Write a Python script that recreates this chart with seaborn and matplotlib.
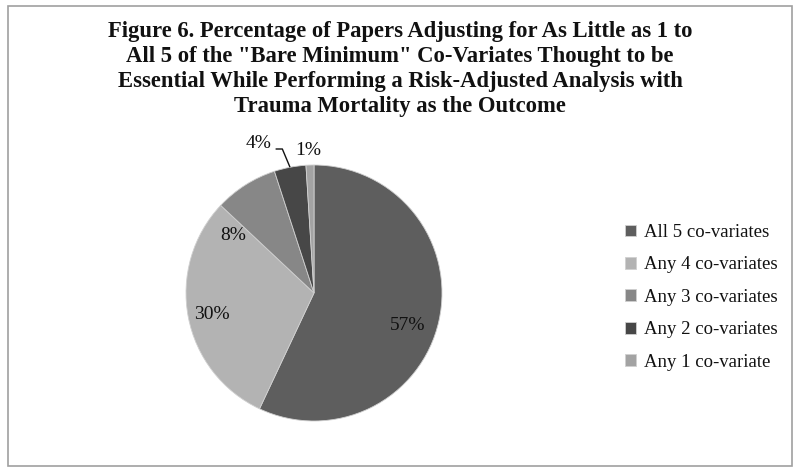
import numpy as np
import matplotlib
matplotlib.use("Agg")
import matplotlib.pyplot as plt
import seaborn as sns
from matplotlib.patches import Rectangle

categories = ["All 5 co-variates", "Any 4 co-variates", "Any 3 co-variates",
              "Any 2 co-variates", "Any 1 co-variate"]
values = [57, 30, 8, 4, 1]
labels = ["57%", "30%", "8%", "4%", "1%"]
colors = ["#5e5e5e", "#b3b3b3", "#878787", "#474747", "#a3a3a3"]
# label anchor positions (in pie-radius units)
label_pos = [(0.73, -0.25), (-0.80, -0.17), (-0.63, 0.45), (-0.33, 1.165), (-0.047, 1.11)]

sns.set_theme(style="white")
plt.rcParams['font.family'] = ['Liberation Serif', 'DejaVu Serif']

fig = plt.figure(figsize=(8.0, 4.72), dpi=100)
fig.patch.set_facecolor("white")
fig.add_artist(Rectangle((0.01, 0.013), 0.98, 0.975, transform=fig.transFigure,
                         fill=False, edgecolor="#a0a0a0", linewidth=1.2))

fig.text(0.5, 0.955, 'Figure 6. Percentage of Papers Adjusting for As Little as 1 to\n'
         'All 5 of the "Bare Minimum" Co-Variates Thought to be\n'
         'Essential While Performing a Risk-Adjusted Analysis with\n'
         'Trauma Mortality as the Outcome',
         ha="center", va="top", fontsize=16.3, fontweight="bold",
         linespacing=1.25, color="#111111")

# pie center ~ (314, 293) px, radius ~128 px
cx, cy, r = 314, 293, 128
ax = fig.add_axes([(cx - r) / 800, (472 - cy - r) / 472, 2 * r / 800, 2 * r / 472])
wedges, _ = ax.pie(values, colors=colors, startangle=90, counterclock=False,
                   wedgeprops=dict(linewidth=0.6, edgecolor="#d0d0d0"),
                   radius=1.0)
ax.set_xlim(-1, 1)
ax.set_ylim(-1, 1)
ax.set_aspect("auto")
ax.axis("off")

total = sum(values)
cum = 0
for i, (v, lab) in enumerate(zip(values, labels)):
    mid = 90 - 360 * (cum + v / 2) / total
    cum += v
    th = np.deg2rad(mid)
    x, y = label_pos[i]
    if lab == "4%":
        ax.text(x, y, lab, ha="right", va="center", fontsize=14, color="#111111")
        # leader line: from label end, horizontal, then to wedge edge midpoint
        ex, ey = np.cos(th), np.sin(th)
        ly = y - 0.04
        kx = ex - 0.06
        ax.plot([x + 0.03, kx, ex], [ly, ly, ey], color="#111111", lw=1.0,
                clip_on=False, solid_capstyle="butt")
    else:
        ax.text(x, y, lab, ha="center", va="center", fontsize=14, color="#111111")

leg = fig.legend(wedges, categories, loc="center left",
                 bbox_to_anchor=(0.760, 0.37), frameon=False, fontsize=13.5,
                 handlelength=0.6, handleheight=0.6, handletextpad=0.4,
                 labelspacing=0.82)
for t in leg.get_texts():
    t.set_color("#111111")

fig.savefig("out.png", dpi=100)
